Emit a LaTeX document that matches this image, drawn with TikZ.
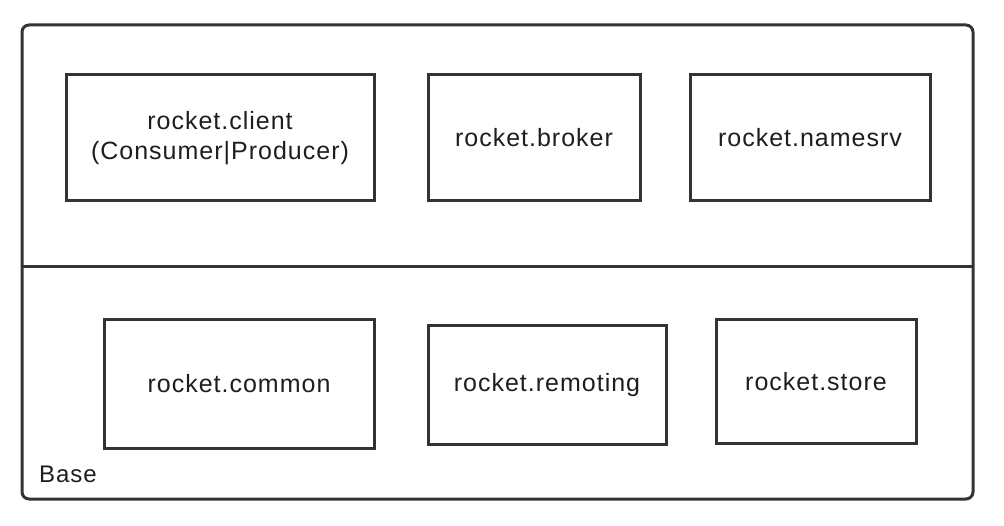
\documentclass[tikz,border=0pt]{standalone}
\usepackage{fontspec}
\setmainfont{Liberation Sans}[LetterSpace=4]
\definecolor{linec}{HTML}{333333}
\definecolor{textc}{HTML}{1E1E1E}
\begin{document}
\begin{tikzpicture}[x=1pt,y=-1pt,
  mod/.style={draw=linec, line width=3pt, rectangle, inner sep=0pt, align=center,
    text=textc, font=\fontsize{25}{33}\selectfont},
  frame/.style={draw=linec, line width=3pt, rounded corners=7pt}]
\useasboundingbox (0,0) rectangle (1004,526);
\draw[frame] (22,25) rectangle (973,499);
\coordinate (dl) at (22,267);
\coordinate (dr) at (973,267);
\draw[draw=linec, line width=3pt] (dl) -- (dr);
\node[mod, minimum width=308pt, minimum height=126pt] (client) at (220,138) {\raisebox{-3pt}{rocket.client}\\(Consumer|Producer)};
\node[mod, minimum width=212pt, minimum height=126pt] (broker) at (534,138) {rocket.broker};
\node[mod, minimum width=240pt, minimum height=126pt] (namesrv) at (810,138) {rocket.namesrv};
\node[mod, minimum width=270pt, minimum height=128pt] (common) at (239,384) {rocket.common};
\node[mod, minimum width=238pt, minimum height=119pt] (remoting) at (547,385) {rocket.remoting};
\node[mod, minimum width=200pt, minimum height=123pt] (store) at (816,381.5) {rocket.store};
\node[anchor=base west, inner sep=0pt, text=textc, font=\fontsize{24}{28}\selectfont] (base) at (39,482) {Base};
\end{tikzpicture}
\end{document}
